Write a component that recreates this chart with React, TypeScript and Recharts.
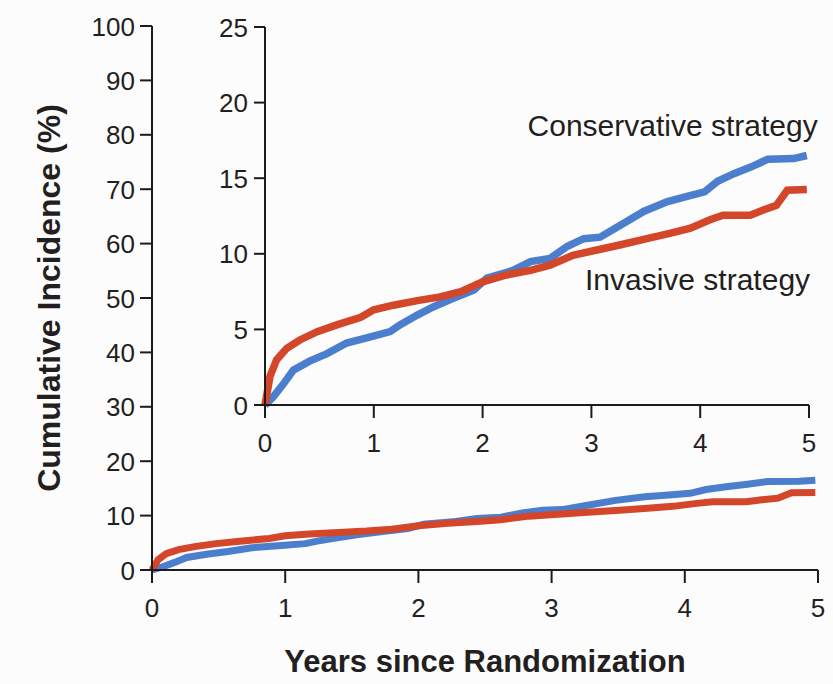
import React from 'react';
import { LineChart, Line, XAxis, YAxis, Label, ReferenceDot } from 'recharts';

// ---- data ----
const invasiveYears = [0, 0.046, 0.107, 0.2, 0.32, 0.48, 0.66, 0.88, 1.0, 1.18, 1.4, 1.61, 1.8, 2.0, 2.22, 2.44, 2.62, 2.83, 3.05, 3.27, 3.51, 3.72, 3.91, 4.09, 4.21, 4.46, 4.58, 4.7, 4.8, 4.98];
const invasiveIncidence = [0, 1.9, 3.0, 3.75, 4.3, 4.85, 5.3, 5.8, 6.3, 6.6, 6.9, 7.15, 7.5, 8.15, 8.6, 8.9, 9.25, 9.9, 10.25, 10.6, 11.0, 11.35, 11.7, 12.25, 12.55, 12.55, 12.9, 13.2, 14.2, 14.25];

const conservativeYears = [0, 0.077, 0.17, 0.26, 0.41, 0.57, 0.75, 0.97, 1.15, 1.24, 1.4, 1.55, 1.73, 1.92, 2.04, 2.28, 2.44, 2.62, 2.78, 2.93, 3.08, 3.27, 3.48, 3.7, 3.88, 4.04, 4.16, 4.31, 4.47, 4.62, 4.86, 4.98];
const conservativeIncidence = [0, 0.55, 1.4, 2.3, 2.9, 3.4, 4.1, 4.5, 4.85, 5.3, 5.95, 6.5, 7.05, 7.6, 8.4, 8.9, 9.48, 9.7, 10.5, 11.0, 11.1, 11.9, 12.8, 13.45, 13.8, 14.1, 14.8, 15.3, 15.75, 16.25, 16.3, 16.5];

const yearTicks = [0, 1, 2, 3, 4, 5];
const mainIncidenceTicks = [0, 10, 20, 30, 40, 50, 60, 70, 80, 90, 100];
const insetIncidenceTicks = [0, 5, 10, 15, 20, 25];

const seriesLabels = { conservative: 'Conservative strategy', invasive: 'Invasive strategy' };
const xTitle = 'Years since Randomization';
const yTitle = 'Cumulative Incidence (%)';

// label anchors in data units (inset chart)
const conservativeLabelAt = { t: 5.08, v: 17.8 };
const invasiveLabelAt = { t: 5.01, v: 7.6 };

// ---- built series ----
const invasiveData = invasiveYears.map((t, i) => ({ t, v: invasiveIncidence[i] }));
const conservativeData = conservativeYears.map((t, i) => ({ t, v: conservativeIncidence[i] }));

// ---- styles ----
const BLUE = '#4b7ecd';
const RED = '#d4462a';
const INK = '#231f20';
const AXIS = '#1c1c1c';
const TICK_FONT = "'Liberation Sans', Arial, sans-serif";
const TITLE_FONT = "'Liberation Sans', Arial, sans-serif";
const TICK_SIZE = 26;

const XTick = (props: any) => {
  const { x, y, payload } = props;
  return (
    <text x={x} y={y} dy={34} textAnchor="middle" fontSize={TICK_SIZE} fontFamily={TICK_FONT} fill={INK}>
      {payload.value}
    </text>
  );
};

const YTick = (props: any) => {
  const { x, y, payload } = props;
  return (
    <text x={x} y={y} dy={9.5} textAnchor="end" fontSize={TICK_SIZE} fontFamily={TICK_FONT} fill={INK}>
      {payload.value}
    </text>
  );
};

const XTitle = (props: any) => {
  const vb = props.viewBox || { x: 152, y: 570, width: 666, height: 114 };
  return (
    <text
      x={vb.x + vb.width / 2}
      y={vb.y + 102}
      textAnchor="middle"
      fontSize={31}
      fontWeight="bold"
      fontFamily={TITLE_FONT}
      fill={INK}
    >
      {xTitle}
    </text>
  );
};

const YTitle = (props: any) => {
  const vb = props.viewBox || { x: 0, y: 26, width: 152, height: 544 };
  const cx = vb.x + 60;
  const cy = vb.y + vb.height / 2;
  return (
    <text
      x={cx}
      y={cy}
      transform={`rotate(-90, ${cx}, ${cy})`}
      textAnchor="middle"
      fontSize={32}
      fontWeight="bold"
      fontFamily={TITLE_FONT}
      fill={INK}
    >
      {yTitle}
    </text>
  );
};

const makeSeriesLabel = (text: string) => (props: any) => {
  const vb = props.viewBox || { x: 0, y: 0, width: 0, height: 0 };
  const x = vb.x + vb.width / 2;
  const y = vb.y + vb.height / 2;
  return (
    <text x={x} y={y} textAnchor="end" fontSize={30} fontFamily={TICK_FONT} fill={INK}>
      {text}
    </text>
  );
};

const axisLine = { stroke: AXIS, strokeWidth: 2 };
const tickLine = { stroke: AXIS, strokeWidth: 2 };

export default function App() {
  return (
    <div style={{ position: 'absolute', left: 0, top: 0, width: 833, height: 684, background: '#fcfcfc' }}>
      <div style={{ position: 'absolute', left: 0, top: 0 }}>
        <LineChart width={833} height={684} margin={{ top: 26, right: 15, bottom: 0, left: 0 }}>
          <XAxis
            type="number"
            dataKey="t"
            domain={[0, 5]}
            ticks={yearTicks}
            interval={0}
            height={114}
            tickSize={13}
            tickMargin={0}
            axisLine={axisLine}
            tickLine={tickLine}
            tick={<XTick />}
          >
            <Label content={<XTitle />} />
          </XAxis>
          <YAxis
            type="number"
            dataKey="v"
            domain={[0, 100]}
            ticks={mainIncidenceTicks}
            interval={0}
            width={152}
            tickSize={12}
            tickMargin={5}
            axisLine={axisLine}
            tickLine={tickLine}
            tick={<YTick />}
          >
            <Label content={<YTitle />} />
          </YAxis>
          <Line data={conservativeData} dataKey="v" type="linear" stroke={BLUE} strokeWidth={7} dot={false} isAnimationActive={false} />
          <Line data={invasiveData} dataKey="v" type="linear" stroke={RED} strokeWidth={7} dot={false} isAnimationActive={false} />
        </LineChart>
      </div>
      <div style={{ position: 'absolute', left: 0, top: 0 }}>
        <LineChart width={833} height={684} margin={{ top: 27, right: 24, bottom: 0, left: 0 }}>
          <XAxis
            type="number"
            dataKey="t"
            domain={[0, 5]}
            ticks={yearTicks}
            interval={0}
            height={279}
            tickSize={13}
            tickMargin={0}
            axisLine={axisLine}
            tickLine={tickLine}
            tick={<XTick />}
          />
          <YAxis
            type="number"
            dataKey="v"
            domain={[0, 25]}
            ticks={insetIncidenceTicks}
            interval={0}
            width={265}
            tickSize={11}
            tickMargin={6}
            axisLine={axisLine}
            tickLine={tickLine}
            tick={<YTick />}
          />
          <Line data={conservativeData} dataKey="v" type="linear" stroke={BLUE} strokeWidth={7.5} dot={false} isAnimationActive={false} />
          <Line data={invasiveData} dataKey="v" type="linear" stroke={RED} strokeWidth={7.5} dot={false} isAnimationActive={false} />
          <ReferenceDot
            x={conservativeLabelAt.t}
            y={conservativeLabelAt.v}
            r={0}
            fill="none"
            stroke="none"
            ifOverflow="visible"
            label={{ content: makeSeriesLabel(seriesLabels.conservative) }}
          />
          <ReferenceDot
            x={invasiveLabelAt.t}
            y={invasiveLabelAt.v}
            r={0}
            fill="none"
            stroke="none"
            ifOverflow="visible"
            label={{ content: makeSeriesLabel(seriesLabels.invasive) }}
          />
        </LineChart>
      </div>
    </div>
  );
}
